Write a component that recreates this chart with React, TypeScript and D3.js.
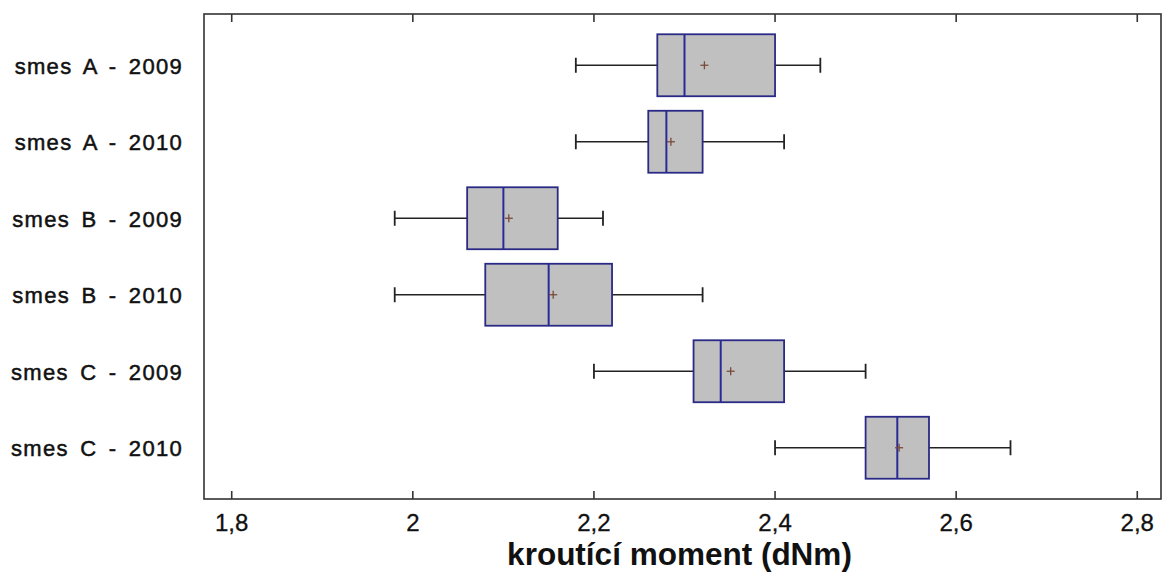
import React from "react";
import * as d3 from "d3";

// Torque distributions per mixture and year
const categories = [
  "smes A - 2009",
  "smes A - 2010",
  "smes B - 2009",
  "smes B - 2010",
  "smes C - 2009",
  "smes C - 2010",
];
const whiskerLow = [2.18, 2.18, 1.98, 1.98, 2.2, 2.4];
const q1 = [2.27, 2.26, 2.06, 2.08, 2.31, 2.5];
const median = [2.3, 2.28, 2.1, 2.15, 2.34, 2.535];
const q3 = [2.4, 2.32, 2.16, 2.22, 2.41, 2.57];
const whiskerHigh = [2.45, 2.41, 2.21, 2.32, 2.5, 2.66];
const means = [2.322, 2.285, 2.106, 2.155, 2.351, 2.537];

const xTicks = [1.8, 2.0, 2.2, 2.4, 2.6, 2.8];
const xTitle = "kroutící moment (dNm)";

const W = 1164;
const H = 575;
const plot = { left: 204, right: 1161, top: 14, bottom: 499 };

export default function App() {
  const x = d3.scaleLinear().domain([1.7694, 2.8262]).range([plot.left, plot.right]);
  const y = d3
    .scalePoint<string>()
    .domain(categories)
    .range([plot.top, plot.bottom])
    .padding(0.67);
  const boxH = y.step() * 0.81;
  const capH = 15;
  const fmt = (v: number) => d3.format("~g")(v).replace(".", ",");
  const font = "'Liberation Sans', Arial, sans-serif";

  return (
    <svg
      width={W}
      height={H}
      style={{ position: "absolute", left: 0, top: 0, background: "#fff" }}
      fontFamily={font}
    >
      {/* plot frame */}
      <rect
        x={plot.left}
        y={plot.top}
        width={plot.right - plot.left}
        height={plot.bottom - plot.top}
        fill="none"
        stroke="#333"
        strokeWidth={1.6}
      />
      {/* inward ticks on top and bottom */}
      {xTicks.map((t) => (
        <g key={t}>
          <line x1={x(t)} x2={x(t)} y1={plot.bottom} y2={plot.bottom - 8} stroke="#333" strokeWidth={1.6} />
          <line x1={x(t)} x2={x(t)} y1={plot.top} y2={plot.top + 8} stroke="#333" strokeWidth={1.6} />
          <text
            x={x(t)}
            y={531}
            textAnchor="middle"
            fontSize={24}
            fill="#111"
            stroke="#111"
            strokeWidth={0.3}
          >
            {fmt(t)}
          </text>
        </g>
      ))}
      <text
        x={(plot.left + plot.right) / 2 - 3}
        y={565}
        textAnchor="middle"
        fontSize={31.5}
        fontWeight="bold"
        fill="#111"
      >
        {xTitle}
      </text>

      {categories.map((c, i) => {
        const cy = y(c) as number;
        return (
          <g key={c}>
            <text
              x={183}
              y={cy + 8.3}
              textAnchor="end"
              fontSize={22}
              letterSpacing={1.3}
              wordSpacing={4}
              fill="#111"
              stroke="#111"
              strokeWidth={0.5}
            >
              {c}
            </text>
            {/* whiskers */}
            <line x1={x(whiskerLow[i])} x2={x(q1[i])} y1={cy} y2={cy} stroke="#222" strokeWidth={1.5} />
            <line x1={x(q3[i])} x2={x(whiskerHigh[i])} y1={cy} y2={cy} stroke="#222" strokeWidth={1.5} />
            <line
              x1={x(whiskerLow[i])}
              x2={x(whiskerLow[i])}
              y1={cy - capH / 2}
              y2={cy + capH / 2}
              stroke="#222"
              strokeWidth={1.8}
            />
            <line
              x1={x(whiskerHigh[i])}
              x2={x(whiskerHigh[i])}
              y1={cy - capH / 2}
              y2={cy + capH / 2}
              stroke="#222"
              strokeWidth={1.8}
            />
            {/* box */}
            <rect
              x={x(q1[i])}
              y={cy - boxH / 2}
              width={x(q3[i]) - x(q1[i])}
              height={boxH}
              fill="#c0c0c0"
              stroke="#2a2a86"
              strokeWidth={1.8}
            />
            <line
              x1={x(median[i])}
              x2={x(median[i])}
              y1={cy - boxH / 2}
              y2={cy + boxH / 2}
              stroke="#2a2a96"
              strokeWidth={2}
            />
            {/* mean marker */}
            <g stroke="#7a4a3a" strokeWidth={1.3}>
              <line x1={x(means[i]) - 4} x2={x(means[i]) + 4} y1={cy} y2={cy} />
              <line x1={x(means[i])} x2={x(means[i])} y1={cy - 4} y2={cy + 4} />
            </g>
          </g>
        );
      })}
    </svg>
  );
}
